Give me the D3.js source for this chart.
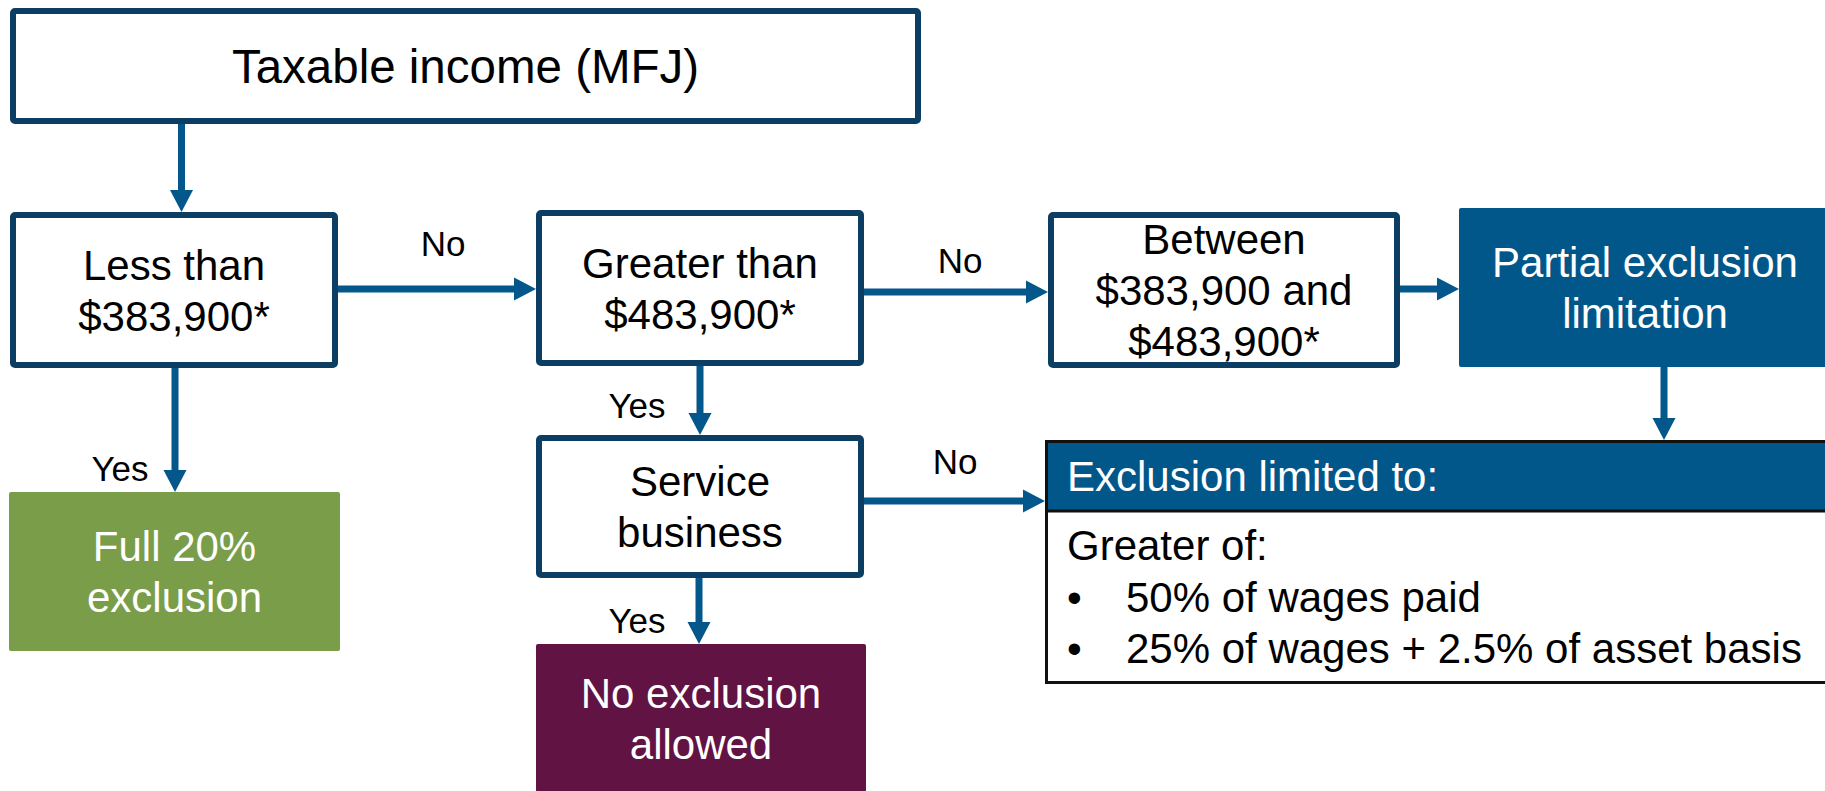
<!DOCTYPE html>
<html>
<head>
<meta charset="utf-8">
<script src="https://cdn.jsdelivr.net/npm/d3@7"></script>
<style>
  body { margin: 0; background: #fff; }
  svg { display: block; font-family: "Liberation Sans", Arial, sans-serif; }
</style>
</head>
<body>
<div id="container"></div>
<script>
"use strict";

// flowchart content
const nodeIds = ["income", "less", "greater", "between", "partial", "full", "service", "none"];
const nodeLabels = [
  ["Taxable income (MFJ)"],
  ["Less than", "$383,900*"],
  ["Greater than", "$483,900*"],
  ["Between", "$383,900 and", "$483,900*"],
  ["Partial exclusion", "limitation"],
  ["Full 20%", "exclusion"],
  ["Service", "business"],
  ["No exclusion", "allowed"]
];

const limitTitle = "Exclusion limited to:";
const limitIntro = "Greater of:";
const limitBullets = ["50% of wages paid", "25% of wages + 2.5% of asset basis"];

const edgeFrom = ["income", "less", "greater", "between", "partial", "less", "greater", "service", "service"];
const edgeTo = ["less", "greater", "between", "partial", "limit", "full", "service", "limit", "none"];
const edgeLabels = ["", "No", "No", "", "", "Yes", "Yes", "No", "Yes"];

// layout (outer edges of each box, in px) and styles
const boxLayout = {
  income:  { x0: 10,   y0: 8,   x1: 921,  y1: 124, style: "outline", size: 47.5 },
  less:    { x0: 10,   y0: 212, x1: 338,  y1: 368, style: "outline" },
  greater: { x0: 536,  y0: 210, x1: 864,  y1: 366, style: "outline" },
  between: { x0: 1048, y0: 212, x1: 1400, y1: 368, style: "outline" },
  partial: { x0: 1459, y0: 208, x1: 1831, y1: 367, style: "blue" },
  full:    { x0: 9,    y0: 492, x1: 340,  y1: 651, style: "green" },
  service: { x0: 536,  y0: 435, x1: 864,  y1: 578, style: "outline" },
  none:    { x0: 536,  y0: 644, x1: 866,  y1: 792, style: "maroon" },
  limit:   { x0: 1045, y0: 440, x1: 1832, y1: 684, head: 511 }
};

// where each arrow runs (x for vertical, y for horizontal) and label positions
const edgeLayout = [
  { at: 181.5 },
  { at: 289, lx: 443, ly: 256 },
  { at: 292, lx: 960, ly: 273 },
  { at: 289 },
  { at: 1664 },
  { at: 175, lx: 120, ly: 481 },
  { at: 700, lx: 637, ly: 418 },
  { at: 501, lx: 955, ly: 474 },
  { at: 699, lx: 637, ly: 633 }
];

const colors = {
  border: "#0b3e62",
  arrow: "#03578b",
  blue: "#02578a",
  green: "#7a9d4a",
  maroon: "#611344",
  text: "#000"
};

const width = 1825, height = 791;
const fontSize = 42, lineHeight = 51, capRatio = 0.716, strokeW = 6;

const svg = d3.select("#container")
  .append("svg")
  .attr("width", width)
  .attr("height", height);

const nodes = nodeIds.map((id, i) => Object.assign({ id: id, lines: nodeLabels[i] }, boxLayout[id]));

// boxes
const g = svg.selectAll(".node")
  .data(nodes)
  .enter()
  .append("g")
  .attr("class", "node");

g.append("rect")
  .attr("x", d => d.style === "outline" ? d.x0 + strokeW / 2 : d.x0)
  .attr("y", d => d.style === "outline" ? d.y0 + strokeW / 2 : d.y0)
  .attr("width", d => d.style === "outline" ? d.x1 - d.x0 - strokeW : d.x1 - d.x0)
  .attr("height", d => d.style === "outline" ? d.y1 - d.y0 - strokeW : d.y1 - d.y0)
  .attr("rx", 2)
  .attr("fill", d => d.style === "outline" ? "#fff" : colors[d.style])
  .attr("stroke", d => d.style === "outline" ? colors.border : "none")
  .attr("stroke-width", strokeW);

g.each(function (d) {
  const size = d.size || fontSize;
  const lh = d.size ? size * 1.2 : lineHeight;
  const cy = (d.y0 + d.y1) / 2;
  const firstBase = cy - (d.lines.length - 1) * lh / 2 + size * capRatio / 2;
  d3.select(this).selectAll("text")
    .data(d.lines)
    .enter()
    .append("text")
    .attr("x", (d.x0 + d.x1) / 2)
    .attr("y", (t, i) => firstBase + i * lh)
    .attr("text-anchor", "middle")
    .attr("font-size", size)
    .attr("fill", d.style === "outline" ? colors.text : "#fff")
    .text(t => t);
});

// limitation box
const lim = boxLayout.limit;
const limG = svg.append("g").attr("class", "limit");
limG.append("rect")
  .attr("x", lim.x0 + 1.5).attr("y", lim.y0 + 1.5)
  .attr("width", lim.x1 - lim.x0 - 3).attr("height", lim.y1 - lim.y0 - 3)
  .attr("fill", "#fff").attr("stroke", "#111").attr("stroke-width", 3);
limG.append("rect")
  .attr("x", lim.x0 + 3).attr("y", lim.y0 + 3)
  .attr("width", lim.x1 - lim.x0 - 6).attr("height", lim.head - lim.y0 - 3)
  .attr("fill", colors.blue);
limG.append("line")
  .attr("x1", lim.x0).attr("x2", lim.x1)
  .attr("y1", lim.head).attr("y2", lim.head)
  .attr("stroke", "#111").attr("stroke-width", 3);
limG.append("text")
  .attr("x", lim.x0 + 22)
  .attr("y", (lim.y0 + lim.head) / 2 + fontSize * capRatio / 2)
  .attr("font-size", fontSize).attr("fill", "#fff")
  .text(limitTitle);

const bodyLines = [{ bullet: false, text: limitIntro }]
  .concat(limitBullets.map(t => ({ bullet: true, text: t })));
const bodyY = d3.scaleLinear().domain([0, 1]).range([560, 611.5]);

const bl = limG.selectAll(".body")
  .data(bodyLines)
  .enter()
  .append("g")
  .attr("class", "body");
bl.filter(d => d.bullet).append("text")
  .attr("x", lim.x0 + 22)
  .attr("y", (d, i) => bodyY(i + 1))
  .attr("font-size", fontSize)
  .text("\u2022");
bl.append("text")
  .attr("x", d => d.bullet ? lim.x0 + 81 : lim.x0 + 22)
  .attr("y", (d, i) => bodyY(i))
  .attr("font-size", fontSize)
  .text(d => d.text);

// arrows
const headLen = 22, headHalf = 11.5, shaftW = 7;
const line = d3.line();

const edges = edgeFrom.map((f, i) => {
  const a = boxLayout[f], b = boxLayout[edgeTo[i]], e = edgeLayout[i];
  const vertical = b.y0 >= a.y1 - 1;
  let start, end, dir;
  if (vertical) {
    start = [e.at, a.y1];
    end = [e.at, b.y0];
    dir = [0, 1];
  } else {
    start = [a.x1, e.at];
    end = [b.x0, e.at];
    dir = [1, 0];
  }
  return { start: start, end: end, dir: dir, label: edgeLabels[i], lx: e.lx, ly: e.ly };
});

const ag = svg.selectAll(".edge")
  .data(edges)
  .enter()
  .append("g")
  .attr("class", "edge");

ag.append("path")
  .attr("d", d => line([d.start, [d.end[0] - d.dir[0] * headLen, d.end[1] - d.dir[1] * headLen]]))
  .attr("stroke", colors.arrow)
  .attr("stroke-width", shaftW)
  .attr("fill", "none");

ag.append("path")
  .attr("d", d => {
    const bx = d.end[0] - d.dir[0] * headLen, by = d.end[1] - d.dir[1] * headLen;
    const px = -d.dir[1] * headHalf, py = d.dir[0] * headHalf;
    return line([d.end, [bx + px, by + py], [bx - px, by - py]]) + "Z";
  })
  .attr("fill", colors.arrow);

ag.filter(d => d.label)
  .append("text")
  .attr("x", d => d.lx)
  .attr("y", d => d.ly)
  .attr("text-anchor", "middle")
  .attr("font-size", 35)
  .attr("fill", colors.text)
  .text(d => d.label);
</script>
</body>
</html>
